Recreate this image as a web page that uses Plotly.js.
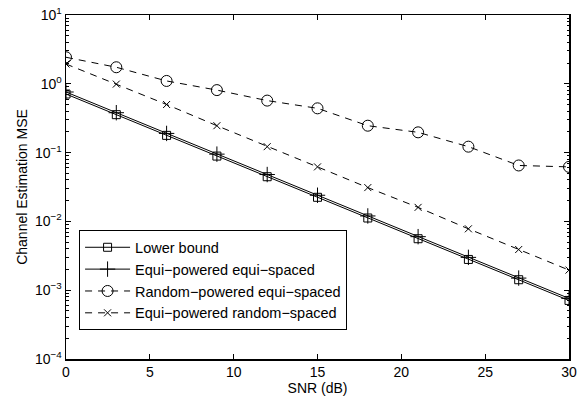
<!DOCTYPE html>
<html><head><meta charset="utf-8">
<script src="https://cdn.plot.ly/plotly-3.0.1.min.js"></script>
<style>html,body{margin:0;padding:0;background:#fff}#chart{width:579px;height:397px}</style>
</head><body><div id="chart"></div>
<script>
const snr = [0, 3, 6, 9, 12, 15, 18, 21, 24, 27, 30];
const lowerBound = [0.71, 0.356, 0.178, 0.089, 0.0446, 0.0224, 0.0112, 0.0056, 0.0028, 0.00142, 0.00071];
const equiEqui = [0.76, 0.38, 0.19, 0.095, 0.048, 0.024, 0.012, 0.006, 0.003, 0.0015, 0.00076];
const randPowEqui = [2.43, 1.74, 1.10, 0.81, 0.57, 0.44, 0.246, 0.197, 0.122, 0.065, 0.062];
const equiPowRand = [1.94, 0.99, 0.50, 0.246, 0.122, 0.062, 0.031, 0.016, 0.0078, 0.0039, 0.00196];
const seriesNames = ['Lower bound', 'Equi\u2212powered equi\u2212spaced', 'Random\u2212powered equi\u2212spaced', 'Equi\u2212powered random\u2212spaced'];
const yTickVals = [1e-4, 1e-3, 1e-2, 1e-1, 1, 10];
const yTickText = ['10<sup>\u22124</sup>', '10<sup>\u22123</sup>', '10<sup>\u22122</sup>', '10<sup>\u22121</sup>', '10<sup>0</sup>', '10<sup>1</sup>'];
const xTickVals = [0, 5, 10, 15, 20, 25, 30];

// minor tick positions built from decades
const minorVals = [];
yTickVals.slice(0, -1).forEach(d => { for (let k = 2; k <= 9; k++) minorVals.push(d * k); });

const fam = 'Liberation Sans, Arial, sans-serif';
const tickFont = {family: fam, size: 14, color: '#000'};
const titleFont = {family: fam, size: 14, color: '#000'};
const legendFont = {family: fam, size: 14.5, color: '#000'};
const mk = (sym, size) => ({symbol: sym, size: size, color: '#000', line: {color: '#000', width: 1}});
const traces = [
  {x: snr, y: lowerBound, name: seriesNames[0], mode: 'lines+markers', line: {color: '#000', width: 1}, marker: mk('square-open', 8)},
  {x: snr, y: equiEqui, name: seriesNames[1], mode: 'lines+markers', line: {color: '#000', width: 1}, marker: mk('cross-thin-open', 11)},
  {x: snr, y: randPowEqui, name: seriesNames[2], mode: 'lines+markers', line: {color: '#000', width: 1, dash: '7px,6px'}, marker: mk('circle-open', 11)},
  {x: snr, y: equiPowRand, name: seriesNames[3], mode: 'lines+markers', line: {color: '#000', width: 1, dash: '7px,6px'}, marker: mk('x-thin-open', 7)},
  {x: [0], y: [1], yaxis: 'y2', mode: 'markers', marker: {opacity: 0}, showlegend: false, hoverinfo: 'skip'}
];
const layout = {
  width: 579, height: 397,
  margin: {l: 66, r: 10, t: 15, b: 38},
  paper_bgcolor: '#fff', plot_bgcolor: '#fff',
  font: tickFont,
  showlegend: true,
  legend: {x: 0.026, y: 0.374, xanchor: 'left', yanchor: 'top', bgcolor: '#fff', bordercolor: '#000', borderwidth: 1, font: legendFont, tracegroupgap: 0, itemwidth: 45},
  xaxis: {range: [0, 30], tickmode: 'array', tickvals: xTickVals, showline: true, linecolor: '#000', linewidth: 1.5, mirror: 'ticks', ticks: 'inside', ticklen: 5, tickcolor: '#000', showgrid: false, zeroline: false, tickfont: tickFont,
    title: {text: 'SNR (dB)', font: titleFont, standoff: 2}},
  yaxis: {type: 'log', range: [-4, 1], tickmode: 'array', tickvals: minorVals, showticklabels: false, showline: true, linecolor: '#000', linewidth: 1.5, mirror: 'ticks', ticks: 'inside', ticklen: 2.5, tickcolor: '#000', showgrid: false, zeroline: false},
  yaxis2: {type: 'log', range: [-4, 1], overlaying: 'y', side: 'left', tickmode: 'array', tickvals: yTickVals, ticktext: yTickText, showline: true, linecolor: '#000', linewidth: 1.5, mirror: 'ticks', ticks: 'inside', ticklen: 5, tickcolor: '#000', showgrid: false, zeroline: false, tickfont: tickFont,
    title: {text: 'Channel Estimation MSE', font: titleFont, standoff: 4}}
};
Plotly.newPlot('chart', traces, layout, {staticPlot: true});
</script></body></html>
